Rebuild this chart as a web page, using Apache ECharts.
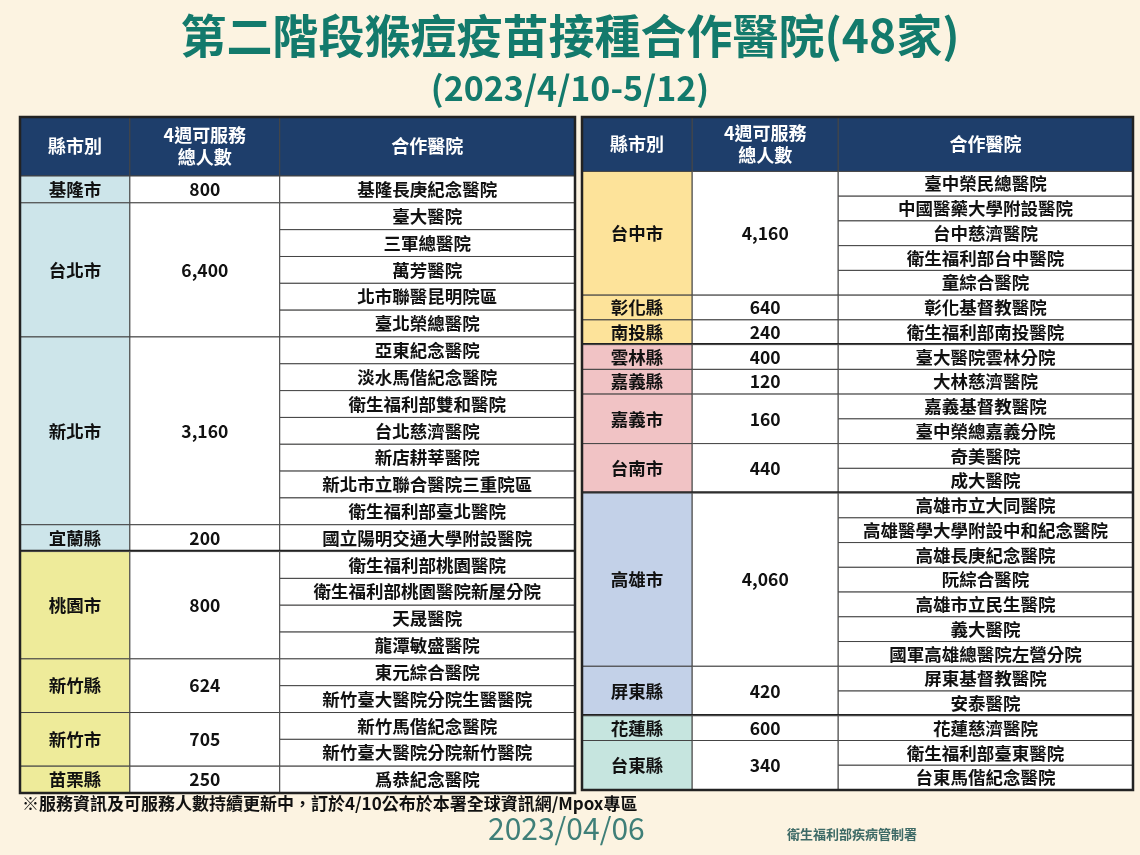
<!DOCTYPE html>
<html><head><meta charset="utf-8">
<script src="https://cdn.jsdelivr.net/npm/echarts@6/dist/echarts.min.js"></script>
<style>html,body{margin:0;padding:0;background:#fcf3e1}#c{width:1140px;height:855px}</style>
</head><body><div id="c"></div>
<script>
const headerLabels = ['縣市別', '4週可服務\n總人數', '合作醫院'];
const leftCities = ['基隆市','台北市','新北市','宜蘭縣','桃園市','新竹縣','新竹市','苗栗縣'];
const leftCounts = ['800','6,400','3,160','200','800','624','705','250'];
const leftRegion = [0,0,0,0,1,1,1,1];
const leftHospitals = [
  ['基隆長庚紀念醫院'],
  ['臺大醫院','三軍總醫院','萬芳醫院','北市聯醫昆明院區','臺北榮總醫院'],
  ['亞東紀念醫院','淡水馬偕紀念醫院','衛生福利部雙和醫院','台北慈濟醫院','新店耕莘醫院','新北市立聯合醫院三重院區','衛生福利部臺北醫院'],
  ['國立陽明交通大學附設醫院'],
  ['衛生福利部桃園醫院','衛生福利部桃園醫院新屋分院','天晟醫院','龍潭敏盛醫院'],
  ['東元綜合醫院','新竹臺大醫院分院生醫醫院'],
  ['新竹馬偕紀念醫院','新竹臺大醫院分院新竹醫院'],
  ['爲恭紀念醫院']
];
const rightCities = ['台中市','彰化縣','南投縣','雲林縣','嘉義縣','嘉義市','台南市','高雄市','屏東縣','花蓮縣','台東縣'];
const rightCounts = ['4,160','640','240','400','120','160','440','4,060','420','600','340'];
const rightRegion = [2,2,2,3,3,3,3,4,4,5,5];
const rightHospitals = [
  ['臺中榮民總醫院','中國醫藥大學附設醫院','台中慈濟醫院','衛生福利部台中醫院','童綜合醫院'],
  ['彰化基督教醫院'],
  ['衛生福利部南投醫院'],
  ['臺大醫院雲林分院'],
  ['大林慈濟醫院'],
  ['嘉義基督教醫院','臺中榮總嘉義分院'],
  ['奇美醫院','成大醫院'],
  ['高雄市立大同醫院','高雄醫學大學附設中和紀念醫院','高雄長庚紀念醫院','阮綜合醫院','高雄市立民生醫院','義大醫院','國軍高雄總醫院左營分院'],
  ['屏東基督教醫院','安泰醫院'],
  ['花蓮慈濟醫院'],
  ['衛生福利部臺東醫院','台東馬偕紀念醫院']
];
const regionColors = ['#cde5ea','#eeeb9a','#fde39a','#f1c3c5','#c3d1e8','#c6e5df'];
const FONT = '"Noto Sans CJK TC", "Noto Sans CJK SC", sans-serif';

function buildData(cities, counts, hosp, region) {
  let start = 0; const out = [];
  cities.forEach((c, i) => {
    const n = hosp[i].length;
    out.push({ value: [start, n], city: c, count: counts[i], hosp: hosp[i], region: region[i],
      regionEnd: i < cities.length - 1 && region[i + 1] !== region[i] });
    start += n;
  });
  return { data: out, total: start };
}
const L = buildData(leftCities, leftCounts, leftHospitals, leftRegion);
const R = buildData(rightCities, rightCounts, rightHospitals, rightRegion);

const colsL = [0, 0.198, 0.468, 1];
const colsR = [0, 0.2, 0.465, 1];
const HDR = 2.2;

function makeRender(cols, data) {
  return function (params, api) {
    const d = params.dataIndex;
    const item = data[d];
    const s = item.value[0], n = item.value[1];
    const ch = [];
    const rect = (x0, y0, x1, y1, fill, lw) => {
      const a = api.coord([cols[x0], y0]), b = api.coord([cols[x1], y1]);
      ch.push({ type: 'rect', shape: { x: a[0], y: a[1], width: b[0] - a[0], height: b[1] - a[1] },
        style: { fill: fill, stroke: '#444', lineWidth: lw || 1 } });
      return [(a[0] + b[0]) / 2, (a[1] + b[1]) / 2];
    };
    const txt = (p, t, color, size) => ch.push({ type: 'text', x: p[0], y: p[1],
      style: { text: t, fill: color || '#111', font: 'bold ' + (size || 17.5) + 'px ' + FONT, align: 'center', verticalAlign: 'middle', lineHeight: 22 } });
    if (d === 0) {
      for (let k = 0; k < 3; k++) {
        const p = rect(k, -HDR, k + 1, 0, '#1e3e6b', 1);
        txt(p, headerLabels[k], '#fff', 18);
      }
    }
    txt(rect(0, s, 1, s + n, regionColors[item.region]), item.city);
    txt(rect(1, s, 2, s + n, '#fff'), item.count);
    item.hosp.forEach((h, j) => txt(rect(2, s + j, 3, s + j + 1, '#fff'), h));
    if (item.regionEnd) {
      const a = api.coord([0, s + n]), b = api.coord([1, s + n]);
      ch.push({ type: 'line', shape: { x1: a[0], y1: a[1], x2: b[0], y2: b[1] }, style: { stroke: '#222', lineWidth: 3.5 } });
    }
    if (d === data.length - 1) {
      const a = api.coord([0, -HDR]), b = api.coord([1, s + n]);
      ch.push({ type: 'rect', shape: { x: a[0], y: a[1], width: b[0] - a[0], height: b[1] - a[1] }, style: { fill: 'none', stroke: '#222', lineWidth: 2.5 } });
    }
    return { type: 'group', children: ch };
  };
}

function seriesFor(B, cols, idx) {
  return { type: 'custom', xAxisIndex: idx, yAxisIndex: idx, data: B.data, encode: { x: [], y: [0] }, clip: false,
    renderItem: makeRender(cols, B.data) };
}

const chart = echarts.init(document.getElementById('c'));
const ax = { type: 'value', show: false, min: 0, max: 1 };
chart.setOption({
  backgroundColor: '#fcf3e1',
  animation: false,
  title: [
    { text: '第二階段猴痘疫苗接種合作醫院(48家)', left: 'center', top: 8,
      textStyle: { fontFamily: FONT, fontWeight: 'bold', fontSize: 46, color: '#137a6c' } },
    { text: '(2023/4/10-5/12)', left: 'center', top: 66,
      textStyle: { fontFamily: FONT, fontWeight: 'bold', fontSize: 34, color: '#137a6c' } }
  ],
  graphic: [
    { type: 'text', left: 22, top: 795, style: { text: '※服務資訊及可服務人數持續更新中，訂於4/10公布於本署全球資訊網/Mpox專區', font: 'bold 17px ' + FONT, fill: '#111' } },
    { type: 'text', left: 488, top: 814, style: { text: '2023/04/06', font: '30px ' + FONT, fill: '#3f7f78' } },
    { type: 'text', left: 787, top: 828, style: { text: '衛生福利部疾病管制署', font: 'bold 13px ' + FONT, fill: '#3d6a66' } }
  ],
  grid: [
    { left: 20, width: 555, top: 117, height: 676 },
    { left: 582, width: 551, top: 117, height: 673 }
  ],
  xAxis: [Object.assign({ gridIndex: 0 }, ax), Object.assign({ gridIndex: 1 }, ax)],
  yAxis: [
    { gridIndex: 0, type: 'value', show: false, inverse: true, min: -HDR, max: L.total },
    { gridIndex: 1, type: 'value', show: false, inverse: true, min: -HDR, max: R.total }
  ],
  series: [seriesFor(L, colsL, 0), seriesFor(R, colsR, 1)]
});
</script></body></html>
